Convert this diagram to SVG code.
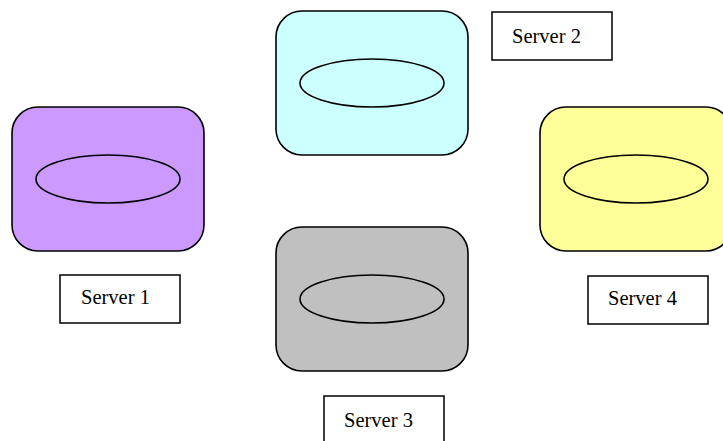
<svg xmlns="http://www.w3.org/2000/svg" width="723" height="441" viewBox="0 0 723 441">
  <style>
    .srv { stroke: #000; stroke-width: 1.6; }
    .disk { fill: none; stroke: #000; stroke-width: 1.6; }
    .lbl { fill: #fff; stroke: #000; stroke-width: 1.5; }
    .txt { font-family: "Liberation Serif", "Times New Roman", serif; font-size: 20.5px; fill: #000; }
  </style>
  <rect width="723" height="441" fill="#fff"/>

  <g id="server1">
    <rect class="srv" x="12" y="107" width="192" height="144" rx="26" ry="26" fill="#CC99FF"/>
    <ellipse class="disk" cx="108" cy="179" rx="72" ry="24"/>
  </g>
  <g id="server2">
    <rect class="srv" x="276" y="11" width="192" height="144" rx="26" ry="26" fill="#CCFFFF"/>
    <ellipse class="disk" cx="372" cy="83" rx="72" ry="24"/>
  </g>
  <g id="server3">
    <rect class="srv" x="276" y="227" width="192" height="144" rx="26" ry="26" fill="#C0C0C0"/>
    <ellipse class="disk" cx="372" cy="299" rx="72" ry="24"/>
  </g>
  <g id="server4">
    <rect class="srv" x="540" y="107" width="192" height="144" rx="26" ry="26" fill="#FFFF99"/>
    <ellipse class="disk" cx="636" cy="179" rx="72" ry="24"/>
  </g>

  <g id="label1">
    <rect class="lbl" x="60" y="275" width="120" height="48"/>
    <text class="txt" x="81" y="304">Server 1</text>
  </g>
  <g id="label2">
    <rect class="lbl" x="492" y="12" width="120" height="48"/>
    <text class="txt" x="512" y="43">Server 2</text>
  </g>
  <g id="label3">
    <rect class="lbl" x="324" y="396" width="120" height="48"/>
    <text class="txt" x="344" y="427">Server 3</text>
  </g>
  <g id="label4">
    <rect class="lbl" x="588" y="276" width="120" height="48"/>
    <text class="txt" x="608" y="305">Server 4</text>
  </g>

  <g id="connectors"></g>
</svg>
